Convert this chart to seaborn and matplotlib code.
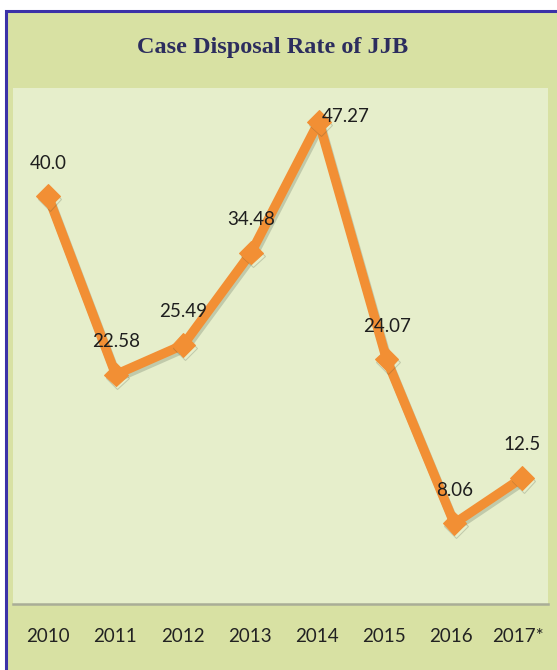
import matplotlib
matplotlib.use("Agg")
import matplotlib.pyplot as plt
import matplotlib.patheffects as pe
from matplotlib.patches import Rectangle
import numpy as np
import pandas as pd
import seaborn as sns

# Case disposal rate by year
years = ["2010", "2011", "2012", "2013", "2014", "2015", "2016", "2017*"]
rates = [40.0, 22.58, 25.49, 34.48, 47.27, 24.07, 8.06, 12.5]
rate_labels = ["40.0", "22.58", "25.49", "34.48", "47.27", "24.07", "8.06", "12.5"]

sns.set_theme(style="white")
plt.rcParams["font.family"] = ["Lato", "DejaVu Sans"]

W, H = 557, 670
fig = plt.figure(figsize=(W / 100, H / 100), dpi=100)
fig.patch.set_facecolor("white")

# Outer olive panel with blue frame
frame = Rectangle((6 / W, -0.02), 1.05, 1.02 - 11 / H, transform=fig.transFigure,
                  facecolor="#d8e1a3", edgecolor="#3b31a8", lw=2.2, zorder=-1)
fig.patches.append(frame)

# Inner plotting area
ax = fig.add_axes([13 / W, 66 / H, 535 / W, 516 / H])
ax.set_facecolor("#e6eecb")

df = pd.DataFrame({"pos": np.arange(len(years)), "rate": rates})
orange = "#f28f34"
sns.lineplot(data=df, x="pos", y="rate", ax=ax, color=orange, lw=6.8,
             marker="D", markersize=12, markeredgecolor=orange,
             path_effects=[pe.SimpleLineShadow(offset=(1.2, -2.2), shadow_color="#3c4a3a", alpha=0.22),
                           pe.Normal()])

ax.set_xlim(-0.517, 7.384)
ax.set_ylim(0.2, 50.54)
ax.set_xticks([])
ax.set_yticks([])
ax.set_xlabel("")
ax.set_ylabel("")
for s in ["top", "left", "right"]:
    ax.spines[s].set_visible(False)
ax.spines["bottom"].set_color("#a9ad97")
ax.spines["bottom"].set_linewidth(1.8)

# Value labels
for i, (v, lab) in enumerate(zip(rates, rate_labels)):
    if i == 4:
        ax.annotate(lab, (i, v), xytext=(27, 5), textcoords="offset pixels",
                    ha="center", va="center", fontsize=13.5, color="#1e1e1e")
    else:
        ax.annotate(lab, (i, v), xytext=(0, 33), textcoords="offset pixels",
                    ha="center", va="center", fontsize=13.5, color="#1e1e1e")

# Year row beneath the plotting area
ax2 = ax.twiny()
ax2.set_xlim(-0.524, 7.444)
ax2.xaxis.set_ticks_position("bottom")
ax2.xaxis.set_label_position("bottom")
ax2.set_xticks(np.arange(len(years)))
ax2.set_xticklabels(years, fontsize=13.5, color="#222222")
ax2.tick_params(axis="x", length=0, pad=17)
for s in ax2.spines.values():
    s.set_visible(False)

fig.text(273 / W, 1 - 47 / H, "Case Disposal Rate of JJB", family=["Liberation Serif", "DejaVu Serif"],
         fontweight="bold", fontsize=17.5, color="#2c2d5e", ha="center", va="center")

fig.savefig("out.png", dpi=100)
